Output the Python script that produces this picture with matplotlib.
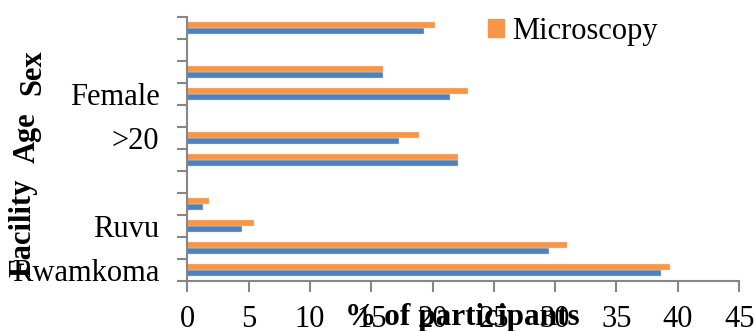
import numpy as np
import matplotlib
matplotlib.use('Agg')
import matplotlib.pyplot as plt
from matplotlib.patches import Patch

plt.rcParams['font.family'] = ['Liberation Serif', 'DejaVu Serif']

# categories, bottom to top (blank rows separate the groups)
labels = ['Rwamkoma', '', 'Ruvu', '', '', '', '>20', '', 'Female', '', '', '']
series_a = [38.6, 29.5, 4.45, 1.3, 0, 22.1, 17.25, 0, 21.4, 16.0, 0, 19.3]
microscopy = [39.4, 31.0, 5.45, 1.8, 0, 22.1, 18.9, 0, 22.9, 16.0, 0, 20.2]
groups = ['Facility', 'Age', 'Sex']
xticks = [0, 5, 10, 15, 20, 25, 30, 35, 40, 45]

blue = '#4F81BD'
orange = '#F79646'
grey = '#868686'
fs = 22

fig = plt.figure(figsize=(7.55, 3.31), dpi=100)
ax = fig.add_axes([0.248, 0.151, 0.731, 0.798])

y = np.arange(1, len(labels) + 1)
h = 0.28
ax.barh(y - h / 2, series_a, height=h, color=blue, edgecolor='#c6d4e8', linewidth=0.3)
ax.barh(y + h / 2, microscopy, height=h, color=orange, edgecolor='#fbd5b5', linewidth=0.3)

ax.set_xlim(0, 45)
ax.set_ylim(0.5, len(labels) + 0.5)
ax.set_xticks(xticks)
ax.set_xticklabels([str(t) for t in xticks], fontsize=fs)
ax.set_yticks(y)
ax.set_yticklabels(labels, fontsize=fs)
ax.set_yticks(np.arange(0.5, len(labels) + 1), minor=True)
ax.tick_params(axis='y', which='major', length=0, pad=20)
ax.tick_params(axis='y', which='minor', length=7, width=1.5, color=grey)
ax.tick_params(axis='x', length=8, width=1.5, color=grey, pad=9)

for s in ['top', 'right']:
    ax.spines[s].set_visible(False)
for s in ['left', 'bottom']:
    ax.spines[s].set_color(grey)
    ax.spines[s].set_linewidth(1.5)

fig.text(0.612, 0.04, '% of participants', fontsize=22.5, fontweight='bold',
         ha='center', va='center')

gpos = [(0.030, 0.311), (0.036, 0.583), (0.044, 0.782)]
for g, (gx, gy) in zip(groups, gpos):
    fig.text(gx, gy, g, fontsize=fs, fontweight='bold', rotation=90,
             ha='center', va='center')

leg = fig.legend(handles=[Patch(color=orange)], labels=['Microscopy'],
                 loc='center left', bbox_to_anchor=(488 / 755, 1 - 31 / 331),
                 frameon=False, fontsize=fs, borderpad=0, borderaxespad=0,
                 handlelength=0.52, handleheight=0.52, handletextpad=0.27)

fig.savefig('out.png', dpi=100)
